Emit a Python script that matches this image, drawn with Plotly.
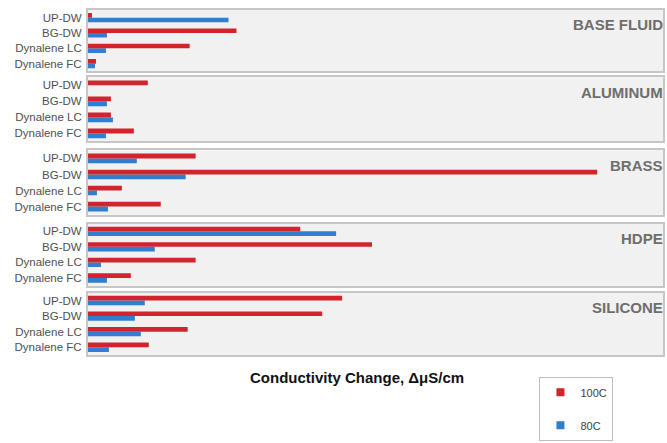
import plotly.graph_objects as go

# Fluids tested, materials soaked in them, and measured conductivity rise
categories = ["UP-DW", "BG-DW", "Dynalene LC", "Dynalene FC"]
panels = ["BASE FLUID", "ALUMINUM", "BRASS", "HDPE", "SILICONE"]

c100_base = [4, 149, 102, 8]
c80_base = [141, 19, 18, 7]
c100_aluminum = [60, 23, 23, 46]
c80_aluminum = [0, 19, 25, 18]
c100_brass = [108, 511, 34, 73]
c80_brass = [49, 98, 9, 20]
c100_hdpe = [213, 285, 108, 43]
c80_hdpe = [249, 67, 13, 19]
c100_silicone = [255, 235, 100, 61]
c80_silicone = [57, 47, 53, 21]

series_100 = [c100_base, c100_aluminum, c100_brass, c100_hdpe, c100_silicone]
series_80 = [c80_base, c80_aluminum, c80_brass, c80_hdpe, c80_silicone]

RED = "#d1242c"
BLUE = "#2f7ecf"
X_MAX = 577
FONT = "Arial, Liberation Sans, sans-serif"

W, H = 667, 443
M_L, M_R, M_T, M_B = 88, 2, 10, 84
plot_h = H - M_T - M_B

def py(px):
    """Convert a pixel row (from the top of the page) into paper coordinates."""
    return (H - M_B - px) / plot_h

# Panel extents in pixel rows
panel_rows = [(10, 72), (78, 143), (152, 217), (226, 289), (296, 359)]

fig = go.Figure()
layout = {}
for i, (name, v100, v80) in enumerate(zip(panels, series_100, series_80)):
    n = "" if i == 0 else str(i + 1)
    xa, ya = "x" + n, "y" + n
    # blue first so that red sits on top within each category
    fig.add_trace(go.Bar(
        x=v80, y=categories, orientation="h", name="80C",
        marker=dict(color=BLUE, line=dict(width=0)),
        xaxis=xa, yaxis=ya, showlegend=False,
    ))
    fig.add_trace(go.Bar(
        x=v100, y=categories, orientation="h", name="100C",
        marker=dict(color=RED, line=dict(width=0)),
        xaxis=xa, yaxis=ya, showlegend=False,
    ))
    top, bot = panel_rows[i]
    layout["xaxis" + n] = dict(
        domain=[0, 1], range=[0, X_MAX], anchor=ya,
        showticklabels=False, ticks="", showgrid=False, zeroline=False,
        showline=True, mirror=True, linecolor="#c6c6c6", linewidth=2,
        fixedrange=True,
    )
    layout["yaxis" + n] = dict(
        domain=[py(bot), py(top)], anchor=xa,
        categoryorder="array", categoryarray=categories[::-1],
        range=[-0.5, 3.5], showgrid=False, zeroline=False, ticks="",
        showline=True, mirror=True, linecolor="#c6c6c6", linewidth=2,
        tickfont=dict(size=11.5, color="#505050", family=FONT),
        ticklabelstandoff=2,
    )
    fig.add_annotation(
        text="<b>%s</b>" % name, xref="paper", yref="paper",
        x=(667 - M_L) / X_MAX, y=py(top + 15),
        xanchor="right", yanchor="middle", showarrow=False,
        font=dict(size=15, color="#6e6e6e", family=FONT),
    )

# Legend entries drawn as small square markers
for label, color in [("100C", RED), ("80C", BLUE)]:
    fig.add_trace(go.Scatter(
        x=[None], y=[None], mode="markers", name=label,
        marker=dict(symbol="square", size=8, color=color),
        legendgroup=label, showlegend=True,
    ))

fig.add_annotation(
    text="<b>Conductivity Change, \u0394\u03bcS/cm</b>",
    xref="paper", yref="paper",
    x=(358 - M_L) / X_MAX, y=py(382),
    xanchor="center", yanchor="middle", showarrow=False,
    font=dict(size=15, color="#111111", family=FONT),
)

fig.update_layout(
    **layout,
    width=W, height=H,
    margin=dict(l=M_L, r=M_R, t=M_T, b=M_B),
    paper_bgcolor="white", plot_bgcolor="#f1f1f1",
    barmode="group", bargap=0.4, bargroupgap=0,
    legend=dict(
        x=(541 - M_L) / X_MAX, y=py(381), xanchor="left", yanchor="top",
        bordercolor="#bdbdbd", borderwidth=1, bgcolor="white",
        font=dict(size=11, color="#404040", family=FONT),
        tracegroupgap=14, itemwidth=30,
    ),
    font=dict(family=FONT),
)

fig.write_html("out.html")
